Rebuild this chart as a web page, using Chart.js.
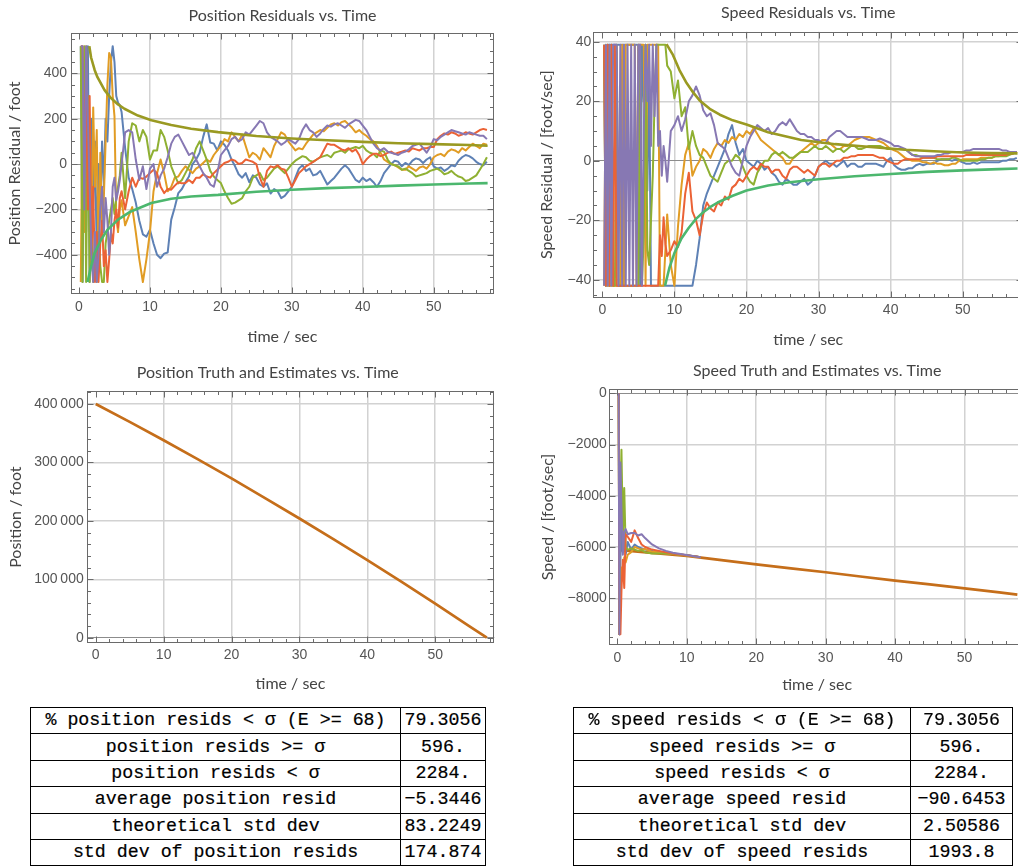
<!DOCTYPE html>
<html><head><meta charset="utf-8">
<script src="https://cdn.jsdelivr.net/npm/chart.js@4/dist/chart.umd.min.js"></script>
<style>
html,body{margin:0;padding:0;background:#fff;overflow:hidden;width:1018px;height:867px;position:relative;}
canvas.c{position:absolute;}
table.t{position:absolute;border-collapse:collapse;table-layout:fixed;font-family:"Liberation Mono","Courier New",monospace;font-size:18.3px;font-weight:normal;-webkit-text-stroke:0.2px #000;color:#000;}
table.t td{border:1px solid #000;height:25.4px;padding:0;text-align:center;white-space:pre;line-height:25px;overflow:hidden;}
</style></head><body>
<canvas id="c1" class="c" width="510" height="352" style="left:0;top:0"></canvas>
<canvas id="c2" class="c" width="540" height="352" style="left:500px;top:0"></canvas>
<canvas id="c3" class="c" width="510" height="345" style="left:0;top:355px"></canvas>
<canvas id="c4" class="c" width="540" height="345" style="left:500px;top:355px"></canvas>
<div id="tables"></div>
<script>
// ---------------- DATA ----------------
const X_TICKS = [0, 10, 20, 30, 40, 50];
const POS_RES_TICKS = [-400, -200, 0, 200, 400];
const SPD_RES_TICKS = [-40, -20, 0, 20, 40];
const POS_TICKS = [0, 100000, 200000, 300000, 400000];
const SPD_TICKS = [-8000, -6000, -4000, -2000, 0];

// common late time samples (sec)
const LATE_T = [14.5,15,15.5,16,16.5,17,17.5,18,18.5,19,
  19.5,20,20.5,21,21.5,22,22.5,23,23.5,24,
  24.5,25,25.5,26,26.5,27,27.5,28,28.5,29,
  29.5,30,30.5,31,31.5,32,32.5,33,33.5,34,
  34.5,35,35.5,36,36.5,37,37.5,38,38.5,39,
  39.5,40,40.5,41,41.5,42,42.5,43,43.5,44,
  44.5,45,45.5,46,46.5,47,47.5,48,48.5,49,
  49.5,50,50.5,51,51.5,52,52.5,53,53.5,54,
  54.5,55,55.5,56,56.5,57,57.5];

// Position residuals (foot)
const POS_T = [0.25,0.5,0.75,1,1.25,1.5,1.75,2,2.25,2.5,2.75,3,3.25,3.5,3.75,4,4.25,4.5,4.75,5,5.25,5.5,5.75,6,
  6.5,7,7.5,8,8.5,9,9.5,10,10.5,11,11.5,12,12.5,13,13.5,14].concat(LATE_T);
const POS_BLUE = [520,-520,300,-300,520,-520,200,-200,100,-400,0,-200,100,-100,200,100,300,450,520,450,300,270,260,230,
  70,-60,-110,-170,-250,-310,-320,-290,-350,-400,-415,-395,-390,-245,-190,-128,
  -110,-80,-55,0,20,50,120,175,95,90,
  60,100,85,60,20,-10,-45,-60,-40,-80,
  -50,-60,-90,-100,-85,-130,-110,-120,-150,-140,
  -120,-100,-60,-20,-5,-30,-20,-50,-45,-30,
  -60,-90,-75,-60,-40,-20,-5,-20,-45,-70,
  -80,-60,-75,-65,-80,-100,-75,-40,-20,0,
  15,10,-10,5,-5,15,25,20,5,20,
  30,-10,-20,-15,-30,-20,-5,-10,15,30,
  40,35,25,10,0,-5,10];
const POS_ORANGE = [-520,300,-300,520,-200,200,-350,250,-100,150,-450,50,-300,-150,100,350,490,470,300,210,-230,-300,-200,-160,
  -270,-230,-190,-300,-420,-520,-420,-300,-120,-40,20,-40,-120,-100,-60,-55,
  -30,-10,-25,-40,-20,-10,5,20,10,40,
  60,80,110,100,140,120,100,130,80,30,
  50,40,20,70,50,30,80,110,140,130,
  100,80,60,70,65,90,110,130,140,150,
  145,160,175,180,170,185,190,175,160,140,
  150,135,125,110,100,80,50,20,10,0,
  -5,-15,-25,-25,-10,-20,-30,-15,-10,-20,
  0,30,40,45,35,55,65,60,50,70,
  60,75,90,80,70,90,85];
const POS_GREEN = [520,-520,520,-520,300,-520,-300,-520,-400,-520,-300,-450,-520,-520,-350,-300,-250,-200,-150,-220,-150,-100,-50,50,
  -150,100,180,170,100,150,120,20,60,60,150,120,60,-10,-50,-85,
  -70,-40,-10,20,70,100,60,20,-30,-55,
  -70,-84,-120,-150,-175,-170,-160,-150,-120,-100,
  -60,-50,-40,-70,-60,-40,-20,-10,-25,-40,
  -20,0,15,25,35,30,15,10,20,30,
  35,40,30,50,55,60,50,65,70,75,
  70,80,60,50,45,30,60,55,20,0,
  -5,-10,-25,-20,-30,-40,-55,-50,-45,-40,
  -30,-25,-20,-30,-45,-40,-30,-45,-55,-60,
  -75,-70,-60,-50,-25,0,30];
const POS_RED = [520,520,100,350,-200,300,-400,-100,-520,-300,-520,-350,-250,-450,-380,-520,-420,-300,-350,-250,-200,-280,-150,-120,
  -200,-120,-60,-100,-60,-65,-55,-40,-25,-40,-100,-128,-110,-113,-95,-80,
  -85,-84,-70,-84,-60,-60,-45,-55,-60,-40,
  -25,-10,5,10,20,15,0,5,20,15,
  10,0,-60,-100,-30,-10,-15,-5,-20,-25,
  -60,-100,-70,-40,-25,-10,0,10,20,30,
  60,90,85,85,75,65,60,70,55,65,
  40,0,20,35,45,45,35,40,50,55,
  45,50,55,60,55,70,65,60,70,70,
  75,75,110,125,135,130,140,135,125,130,
  140,135,130,140,150,155,150];
const POS_PURPLE = [520,520,-200,520,200,-100,-400,-520,-300,-520,-400,-200,-100,-300,-150,-250,-400,-300,-100,-60,-160,-120,-70,0,
  140,150,140,20,-70,-10,-110,-20,0,-100,-50,-20,30,90,120,130,
  100,70,40,50,20,-10,-40,-60,-90,-100,
  -40,40,60,80,110,120,100,110,140,130,
  150,170,190,180,140,120,110,100,85,95,
  110,100,90,110,150,175,150,140,120,135,
  155,170,165,175,180,170,160,175,185,195,
  190,170,150,120,90,70,60,70,55,50,
  45,40,50,55,65,80,85,90,70,50,
  75,110,105,120,130,140,150,145,140,135,
  130,140,135,130,125,125,110];
const POS_SIG_UP_T = [1.45,1.7,2.2,2.6,3.6,4.5,5.5,6.4,8.3,10.2,13,15.8,19.6,25,30,35,40,45,50,55,57.6];
const POS_SIG_UP = [520,470,415,383,326,291,263,244,214,193,172,156,141,124,113,105,98,92,88,84,81];
const POS_SIG_LO_T = [1.2,1.7,2.2,3.1,4,5.5,7.3,10.2,13,15.8,19.6,25,30,35,40,45,50,55,57.6];
const POS_SIG_LO = [-520,-451,-393,-334,-290,-245,-209,-172,-153,-143,-136,-122,-113,-106,-101,-95,-90,-86,-84];

// Speed residuals (foot/sec)
const SPD_T = [0.25,0.5,0.75,1,1.25,1.5,1.75,2,2.25,2.5,2.75,3,3.25,3.5,3.75,4,4.25,4.5,4.75,5,5.25,5.5,5.75,6,6.25,6.5,6.75,7,7.25,7.5,7.75,8,8.25,8.5,8.75,9,
  9.5,10,10.5,11,11.5,12,12.5,13,13.5,14].concat(LATE_T);
const SPD_BLUE = [39,-42,39,39,39,39,39,39,39,39,39,39,39,39,39,39,39,39,39,39,-42,39,20,39,-10,30,-42,-42,-42,-42,-42,-42,-42,-42,-42,-42,
  -42,-42,-42,-42,-42,-42,-42,-35,-26,-15,
  -11,-8,-5,-2,1,4,9,12,6,2,
  4,0,-1,-2,0,-1,-3,-2,-4,-5,
  -7,-8,-6,-7,-8,-8,-7,-6,-8,-7,
  -5,-2,-1,0,-1,-1,-2,-1,0,-2,
  -1,-1,-2,-2,-1,-1,-1,-1,-1.5,-2,
  0,1,-1.5,-2.5,-3,-3,-2.5,-2.5,-1.5,-1,
  -1.5,-1,-1,-1,0,0.5,0.5,0.5,0,0.5,
  0,-0.5,-1,-1,-0.5,-1,-0.5,-0.5,-0.5,-0.5,
  -0.5,-0.5,0,0,0.5,0.5,1];
const SPD_ORANGE = [-42,39,-42,-42,-42,-42,-42,-42,-42,-42,39,-42,39,39,39,39,39,39,-42,39,39,39,39,-42,39,39,39,39,39,39,39,-42,-42,-42,-30,-18,
  -35,-42,-22,-8,2,6,-5,-2,0,4,
  3,1,4,6,5,7,6,8,7,9,
  8,10,9,11,9,7,6,5,4,3,
  2,1,-1,-1,1,2,3,4,5,6,
  5,6,7,7,6,5,4,4,5,5,
  6,7,7.5,8,8,8,7.5,7,6.5,6,
  5,4,3.5,3,2,1,0.5,0,0,0,
  -0.5,-0.5,-1,-0.5,-1,-1,-1.5,-1.5,-1,-1,
  0,0.5,0.5,0.5,0.5,0.5,1,1,1,1,
  1.5,1.5,2,2,2.5,2.5,3];
const SPD_GREEN = [39,-42,39,-42,39,-42,-42,39,-42,-42,-42,-42,-42,-42,-42,-42,-42,-42,-42,-42,39,-42,-25,39,-30,-35,-20,-5,20,39,39,39,39,39,39,32,
  30,21,27,15,18,4,10,5,2,1,
  -2,-5,-6,-7,-4,-1,0,0,2,1,
  -2,-5,-7,-8,-4,-2,0,0,2,3,
  2,3,2,1,1,2,3,3,3,4,
  5,4,4,5,4,3,4,4,3,4,
  5,5,4,4,4.5,5,5,5,5,4.5,
  4,4,4,4,4,4,3,2,2,1.5,
  1,1,1,1,0.5,0.5,0.5,0.5,1,1,
  0.5,0,0,0,0,0,0.5,0.5,1,1,
  1.5,1.5,1.5,1.5,2,2.5,3];
const SPD_RED = [39,-42,39,-42,39,-42,39,-42,-42,-42,-42,-42,-42,-42,-42,-42,-42,-42,-42,-42,-42,-42,-42,-42,-42,-42,-42,-42,-42,-42,-42,-25,-32,-19,-28,-32,
  -30,-27,-29,-24,-11,-4,-17,-20,-25,-18,
  -14,-16,-17,-14,-15,-12,-13,-9,-8,-6,
  -7,-5,-3,-2,-3,-1,-2,-2,-4,-3,
  -3,-5,-6,-3,-2,-2,-3,-4,-3,-4,
  -5,-2,-1,-1,-2,-1,0,0,1,1,
  1.5,1.5,2,2,2,2,2,1.5,1,1,
  0,-0.5,-1,-1,0,0.5,0.5,0.5,0.5,0.5,
  1,1,1,1,1.5,1.5,1.5,1.5,1.5,1.5,
  1.5,1.5,2,2,2,2,2,2,2,2,
  2,2,2,2,2.5,2.5,3];
const SPD_PURPLE = [-42,39,-42,39,-42,39,39,39,-42,39,-42,39,-42,39,-42,39,-42,39,-42,39,39,-42,10,39,20,39,5,39,15,39,5,10,-5,5,0,-7,
  10,12,15,10,14,20,22,25,22,17,
  15,16,12,6,5,4,1,-2,-4,-5,
  0,5,8,10,12,11,10,11,9,10,
  12,13,12,14,12,10,9,9,8,8,
  7,7,6,6,8,9,10,10,9,8,
  8,8,8,8,7.5,7,7,7,7.5,7,
  6.5,6,5,5,4.5,4,3,2,1.5,1.5,
  1.5,1.5,1.5,1.5,2,2,2.5,2.5,3,3,
  3,3,3.5,3.5,4,4,4,4,4,4,
  4,4,3.5,3.5,3,3,3];
const SPD_SIG_UP_T = [8.9,9.8,10.7,11.6,12.6,13.5,14.9,16.3,18.1,20,23,27.6,32.3,38.5,42,46,50,54,57.6];
const SPD_SIG_UP = [39.2,35.6,30.5,26.5,23,20.3,17.5,15.5,13.6,12.2,9.6,7,5.6,4.4,3.7,3.2,2.8,2.6,2.5];
const SPD_SIG_LO_T = [8.7,9.3,10,11,12,13,14,15,16,18,20,23,26,30,35,40,45,50,55,57.6];
const SPD_SIG_LO = [-42,-36,-31,-26,-22.5,-19.5,-17.3,-15.5,-14,-11.8,-10,-8.3,-7.2,-6.2,-5.2,-4.4,-3.7,-3.2,-2.8,-2.6];

// Truth and estimates
const TRUTH_T = [0,5,10,15,20,25,30,35,40,45,50,55,57.6];
const POS_TRUTH = [400000,369400,338000,305700,272600,238600,204000,168700,132700,96000,58500,20000,0];
const SPD_TRUTH_T = [0.5,5,10,15,20,25,30,35,40,45,50,55,57.6];
const SPD_TRUTH = [-6120,-6230,-6348,-6510,-6673,-6830,-6985,-7150,-7310,-7460,-7610,-7770,-7860];
const EST_T = [0.2,0.3,0.45,0.6,0.8,1,1.2,1.5,2,2.5,3,3.5,4,5,6,7,8,10,12];
const EST_BLUE = [0,-9400,-6500,-5100,-6200,-5600,-6300,-5800,-6100,-5900,-6000,-6050,-6100,-6150,-6200,-6230,-6260,-6320,-6400];
const EST_ORANGE = [0,-9400,-7600,-6800,-7200,-6400,-6600,-6300,-6200,-6000,-6050,-6100,-6080,-6180,-6200,-6250,-6270,-6330,-6400];
const EST_GREEN = [0,-9400,-4000,-2200,-5500,-3700,-6000,-6100,-6050,-6100,-6150,-6120,-6200,-6250,-6250,-6250,-6260,-6320,-6400];
const EST_RED = [0,-9400,-9400,-7700,-6500,-7600,-5500,-5600,-5800,-5350,-5650,-5900,-6000,-6100,-6150,-6200,-6250,-6320,-6400];
const EST_PURPLE = [0,-9400,-2700,-4500,-6300,-5400,-5300,-5500,-5450,-5450,-5550,-5500,-5650,-5900,-6050,-6150,-6220,-6310,-6400];

// Tables
const POS_TABLE_LABELS = ["% position resids < \u03c3 (E >= 68)","position resids >= \u03c3","position resids < \u03c3","average position resid","theoretical std dev","std dev of position resids"];
const POS_TABLE_VALUES = ["79.3056","596.","2284.","\u22125.3446","83.2249","174.874"];
const SPD_TABLE_LABELS = ["% speed resids < \u03c3 (E >= 68)","speed resids >= \u03c3","speed resids < \u03c3","average speed resid","theoretical std dev","std dev of speed resids"];
const SPD_TABLE_VALUES = ["79.3056","596.","2284.","\u221290.6453","2.50586","1993.8"];

// ---------------- STYLE ----------------
const C = {blue:'#5e81b5', orange:'#e19c24', green:'#8fb032', red:'#eb6235', purple:'#8778b3',
  dkorange:'#c56e1a', olive:'#9a9a22', siggreen:'#4cb76e'};
const GRID = '#d2d2d2', ZERO = '#8c8c8c';
const TICKFONT = {family:'"Liberation Sans", Arial, sans-serif', size:14};
const LABELFONT = {family:'Lato, "Open Sans", sans-serif', size:16};
const TICKCOLOR = '#555', LABELCOLOR = '#444';

function fmt(v){ return (v < 0 ? '\u2212' : '') + String(Math.abs(v)); }
function fmtBig(v){ return (v < 0 ? '\u2212' : '') + String(Math.abs(v)).replace(/\B(?=(\d{3})+(?!\d))/g, '\u2009'); }

function series(T, Y, color, width, order){
  return {data: T.map((t,i)=>({x:t, y:Y[i]})), borderColor: color, borderWidth: width,
    pointRadius: 0, fill: false, tension: 0, order: order, borderJoinStyle:'round'};
}

const framePlugin = {
  id: 'mframe',
  afterDraw(chart, args, o){
    const {ctx, chartArea: a} = chart;
    const xs = chart.scales.x, ys = chart.scales.y;
    ctx.save();
    ctx.strokeStyle = '#6a6a6a';
    ctx.lineWidth = 1;
    const L = Math.round(a.left)+0.5, R = Math.round(a.right)-0.5, T = Math.round(a.top)+0.5, B = Math.round(a.bottom)-0.5;
    ctx.strokeRect(L, T, R-L, B-T);
    ctx.beginPath();
    const isMaj = (v, m) => Math.abs(v/m - Math.round(v/m)) < 1e-6;
    for (let k = Math.ceil(xs.min/o.xMinor); k*o.xMinor <= xs.max; k++){
      const v = k*o.xMinor, p = Math.round(xs.getPixelForValue(v))+0.5, len = isMaj(v,o.xMajor) ? 6 : 3.5;
      if (p < a.left || p > a.right) continue;
      ctx.moveTo(p, B); ctx.lineTo(p, B-len); ctx.moveTo(p, T); ctx.lineTo(p, T+len);
    }
    for (let k = Math.ceil(ys.min/o.yMinor); k*o.yMinor <= ys.max; k++){
      const v = k*o.yMinor, p = Math.round(ys.getPixelForValue(v))+0.5, len = isMaj(v,o.yMajor) ? 6 : 3.5;
      if (p < a.top || p > a.bottom) continue;
      ctx.moveTo(L, p); ctx.lineTo(L+len, p); ctx.moveTo(R, p); ctx.lineTo(R-len, p);
    }
    ctx.stroke();
    ctx.font = '16px Lato, "Open Sans", sans-serif';
    ctx.fillStyle = LABELCOLOR;
    ctx.textAlign = 'center';
    ctx.textBaseline = 'alphabetic';
    ctx.fillText(o.title, o.titleX, o.titleY);
    ctx.restore();
  }
};

function makeChart(id, cfg){
  return new Chart(document.getElementById(id), {
    type: 'line',
    data: {datasets: cfg.datasets},
    options: {
      responsive: false, animation: false, devicePixelRatio: 1, events: [],
      layout: {padding: cfg.pad},
      plugins: {legend:{display:false}, tooltip:{enabled:false}, title:{display:false},
        mframe: {title: cfg.title, titleX: cfg.titleX, titleY: cfg.titleY, xMinor: 2, xMajor: 10, yMinor: cfg.yMinor, yMajor: cfg.yMajor}},
      scales: {
        x: {type:'linear', min: cfg.xMin, max: cfg.xMax,
          afterBuildTicks: s => { s.ticks = X_TICKS.map(v => ({value: v})); },
          afterFit: s => { s.height = cfg.xH; },
          grid: {drawTicks:false, color: c => (c.tick && c.tick.value === 0) ? 'rgba(0,0,0,0)' : GRID, lineWidth: 1.5},
          border: {display:false},
          ticks: {padding: cfg.xTickPad, font: TICKFONT, color: TICKCOLOR, maxRotation: 0, autoSkip: false, callback: v => fmt(v)},
          title: {display:true, text:'time / sec', font: LABELFONT, color: LABELCOLOR, padding: {top:0, bottom: cfg.xTitlePad}}},
        y: {type:'linear', min: cfg.yMin, max: cfg.yMax,
          afterBuildTicks: s => { s.ticks = cfg.yTicks.map(v => ({value: v})); },
          afterFit: s => { s.width = cfg.yW; },
          grid: {drawTicks:false, color: c => (c.tick && c.tick.value === 0) ? ZERO : GRID,
                 lineWidth: c => (c.tick && c.tick.value === 0) ? 1 : 1.5},
          border: {display:false},
          ticks: {padding: cfg.yTickPad, font: TICKFONT, color: TICKCOLOR, autoSkip: false, callback: cfg.yFmt},
          title: {display:true, text: cfg.yLabel, font: LABELFONT, color: LABELCOLOR, padding: {top: cfg.yTitlePad, bottom: 0}}}
      }
    },
    plugins: [framePlugin]
  });
}

// Order: lower "order" is drawn on top
makeChart('c1', {
  datasets: [
    series(POS_SIG_UP_T, POS_SIG_UP, C.olive, 2.6, 1),
    series(POS_SIG_LO_T, POS_SIG_LO, C.siggreen, 2.6, 0),
    series(POS_T, POS_PURPLE, C.purple, 2, 2),
    series(POS_T, POS_RED, C.red, 2, 3),
    series(POS_T, POS_GREEN, C.green, 2, 4),
    series(POS_T, POS_ORANGE, C.orange, 2, 5),
    series(POS_T, POS_BLUE, C.blue, 2, 6)
  ],
  pad: {top:33, right:16, left:0, bottom:0},
  xMin:-1.13, xMax:58.5, yMin:-573, yMax:578, yTicks: POS_RES_TICKS, yMinor:50, yMajor:200,
  xH:58, yW:71, xTickPad:5, yTickPad:4, xTitlePad:5.7, yTitlePad:5.4,
  yLabel:'Position Residual / foot', yFmt: v => fmt(v),
  title:'Position Residuals vs. Time', titleX:282.5, titleY:20.7
});

makeChart('c2', {
  datasets: [
    series(SPD_SIG_UP_T, SPD_SIG_UP, C.olive, 2.6, 1),
    series(SPD_SIG_LO_T, SPD_SIG_LO, C.siggreen, 2.6, 0),
    series(SPD_T, SPD_PURPLE, C.purple, 2, 2),
    series(SPD_T, SPD_RED, C.red, 2, 3),
    series(SPD_T, SPD_GREEN, C.green, 2, 4),
    series(SPD_T, SPD_ORANGE, C.orange, 2, 5),
    series(SPD_T, SPD_BLUE, C.blue, 2, 6)
  ],
  pad: {top:31.7, right:16.7, left:0, bottom:0},
  xMin:-1.25, xMax:58.4, yMin:-46, yMax:43.4, yTicks: SPD_RES_TICKS, yMinor:5, yMajor:20,
  xH:54.3, yW:93.3, xTickPad:4, yTickPad:2, xTitlePad:2.4, yTitlePad:37.1,
  yLabel:'Speed Residual / [foot/sec]', yFmt: v => fmt(v),
  title:'Speed Residuals vs. Time', titleX:308.3, titleY:18.3
});

makeChart('c3', {
  datasets: [
    series(TRUTH_T, POS_TRUTH, C.dkorange, 2.7, 0)
  ],
  pad: {top:36, right:15.7, left:0, bottom:0},
  xMin:-1.33, xMax:58.7, yMin:-9590, yMax:422260, yTicks: POS_TICKS, yMinor:20000, yMajor:100000,
  xH:56.7, yW:86.7, xTickPad:3.3, yTickPad:3, xTitlePad:6.6, yTitlePad:6.7,
  yLabel:'Position / foot', yFmt: v => fmtBig(v),
  title:'Position Truth and Estimates vs. Time', titleX:267.8, titleY:23.3
});

makeChart('c4', {
  datasets: [
    series(EST_T, EST_PURPLE, C.purple, 2, 1),
    series(EST_T, EST_RED, C.red, 2, 2),
    series(EST_T, EST_GREEN, C.green, 2, 3),
    series(EST_T, EST_ORANGE, C.orange, 2, 4),
    series(EST_T, EST_BLUE, C.blue, 2, 5),
    series(SPD_TRUTH_T, SPD_TRUTH, C.dkorange, 2.7, 6)
  ],
  pad: {top:34, right:15, left:0, bottom:0},
  xMin:-1.15, xMax:58.7, yMin:-9823, yMax:168, yTicks: SPD_TICKS, yMinor:500, yMajor:2000,
  xH:55, yW:109.3, xTickPad:4.9, yTickPad:2.5, xTitlePad:5.9, yTitlePad:37.9,
  yLabel:'Speed / [foot/sec]', yFmt: v => fmt(v),
  title:'Speed Truth and Estimates vs. Time', titleX:317.2, titleY:21.3
});

// Tables
function makeTable(labels, values, left, top, w1, w2){
  const t = document.createElement('table');
  t.className = 't';
  t.style.left = left + 'px'; t.style.top = top + 'px'; t.style.width = (w1 + w2) + 'px';
  const cg = document.createElement('colgroup');
  [w1, w2].forEach(w => { const c = document.createElement('col'); c.style.width = w + 'px'; cg.appendChild(c); });
  t.appendChild(cg);
  labels.forEach((lab, i) => {
    const tr = document.createElement('tr');
    const a = document.createElement('td'); a.textContent = lab;
    const b = document.createElement('td'); b.textContent = values[i];
    tr.appendChild(a); tr.appendChild(b); t.appendChild(tr);
  });
  document.getElementById('tables').appendChild(t);
}
makeTable(POS_TABLE_LABELS, POS_TABLE_VALUES, 30, 707, 370, 85);
makeTable(SPD_TABLE_LABELS, SPD_TABLE_VALUES, 573, 707, 337, 102);
</script>
</body></html>
